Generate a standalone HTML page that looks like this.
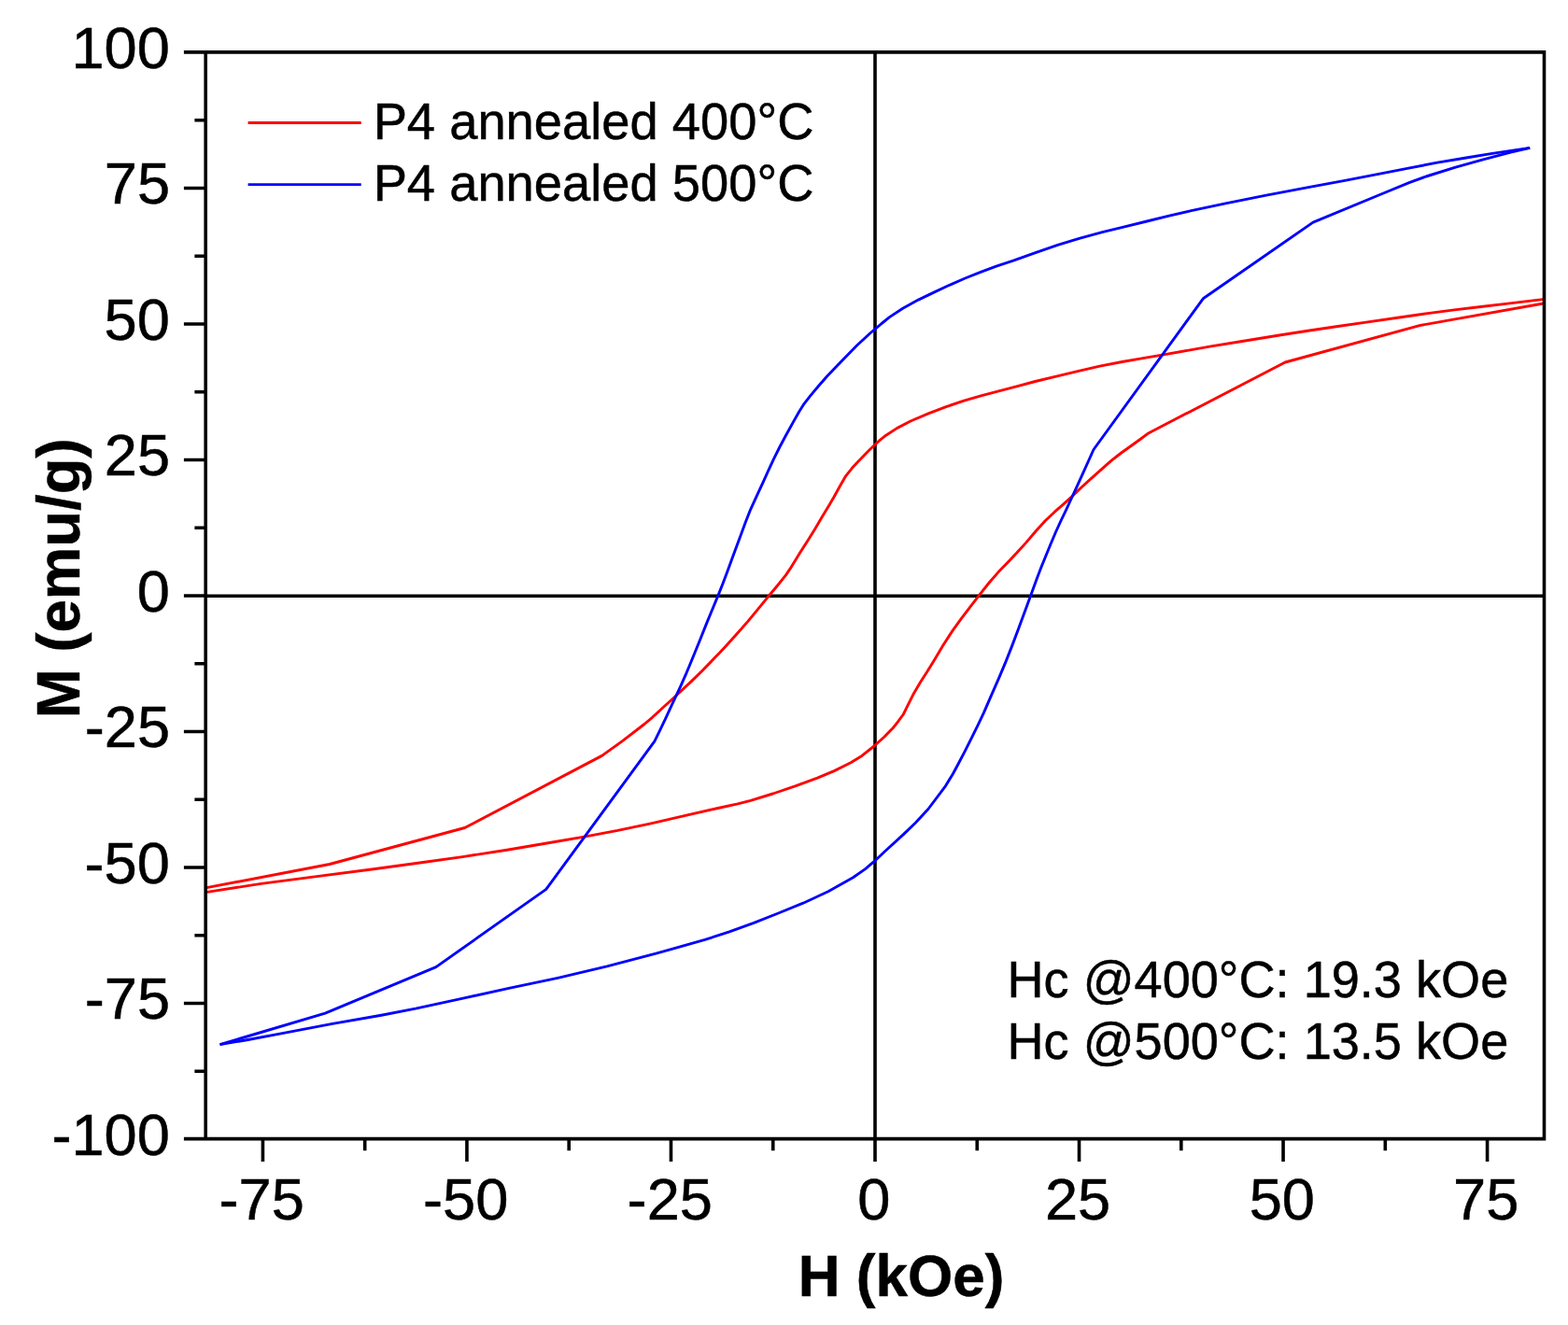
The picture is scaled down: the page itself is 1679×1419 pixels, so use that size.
<!DOCTYPE html>
<html><head><meta charset="utf-8"><title>M-H hysteresis loops</title>
<style>html,body{margin:0;padding:0;background:#fff;}body{width:1679px;height:1419px;overflow:hidden;}svg{display:block;}</style>
</head><body><svg width="1679" height="1419" viewBox="0 0 1679 1419"><line x1="220.2" y1="638.3" x2="1653.5" y2="638.3" stroke="#000" stroke-width="3.6"/><line x1="937.0" y1="55.9" x2="937.0" y2="1219.6" stroke="#000" stroke-width="3.6"/><g fill="none" stroke-width="2.9" stroke-linejoin="round" stroke-linecap="butt"><path d="M220.0 950.9 L353.0 925.5 L497.7 886.5 L644.5 809.4 L666.1 793.9 L690.0 775.5 L698.5 768.3 L709.4 758.3 L722.6 746.3 L739.6 730.4 L752.0 718.3 L770.2 699.4 L779.7 689.2 L790.7 677.1 L800.9 665.4 L810.2 654.1 L820.0 642.1 L823.4 638.0 L832.4 627.2 L841.5 615.9 L846.2 608.9 L856.9 591.5 L865.4 578.2 L872.7 566.4 L880.6 553.0 L887.9 541.0 L893.0 532.2 L899.6 520.2 L905.8 509.6 L912.6 501.1 L918.2 495.0 L925.0 488.0 L930.6 482.3 L936.8 476.3 L942.5 471.1 L948.7 466.2 L960.4 458.6 L975.0 451.0 L994.1 442.9 L1013.1 435.6 L1032.2 429.2 L1051.3 423.7 L1070.3 418.7 L1089.4 413.6 L1108.5 408.5 L1135.0 402.2 L1153.8 397.7 L1177.6 392.2 L1201.5 387.5 L1225.3 383.4 L1244.4 380.1 L1272.9 375.1 L1296.8 370.9 L1330.0 365.5 L1370.0 359.0 L1400.4 354.2 L1430.8 349.7 L1461.1 345.4 L1500.0 339.8 L1528.6 335.6 L1557.2 331.9 L1585.8 328.5 L1614.4 325.1 L1654.0 320.4" stroke="#ff0000"/><path d="M220.0 955.6 L279.6 946.4 L339.1 938.6 L400.0 930.8 L447.6 924.3 L495.3 917.6 L542.9 910.2 L590.0 902.2 L625.7 896.1 L661.5 889.4 L697.2 881.8 L732.9 873.6 L768.7 865.5 L790.0 860.8 L803.8 857.3 L827.6 850.0 L851.5 841.9 L875.3 833.2 L893.2 825.6 L911.0 816.8 L922.9 809.4 L936.0 799.0 L946.8 789.2 L956.3 779.5 L961.0 773.7 L967.3 765.0 L972.8 753.8 L978.3 742.9 L985.6 730.5 L993.0 719.0 L999.8 707.9 L1009.9 691.0 L1019.7 675.9 L1029.6 662.1 L1039.5 649.2 L1048.4 637.7 L1059.2 624.0 L1069.1 612.6 L1078.9 602.4 L1088.8 592.0 L1098.7 581.1 L1109.0 569.0 L1119.2 557.8 L1129.3 548.2 L1138.3 540.3 L1147.4 532.1 L1159.8 520.3 L1168.8 512.1 L1178.9 503.1 L1190.2 493.2 L1200.0 485.5 L1220.9 470.5 L1230.1 463.7 L1376.1 388.0 L1520.0 348.6 L1654.0 324.8" stroke="#ff0000"/><path d="M235.5 1118.6 L348.2 1085.2 L466.9 1035.6 L584.8 952.4 L700.9 793.9 L706.3 782.8 L712.5 769.8 L717.9 758.2 L723.3 746.7 L728.8 734.9 L734.2 722.7 L739.6 709.7 L744.3 698.3 L750.1 684.0 L756.1 668.9 L762.0 654.5 L768.8 638.1 L773.8 625.5 L778.9 611.9 L784.0 597.9 L790.0 581.7 L792.8 574.2 L798.3 559.2 L803.8 545.3 L810.2 531.3 L816.7 517.4 L822.2 505.2 L828.6 491.4 L835.0 478.5 L841.0 467.2 L849.2 452.4 L855.6 441.0 L861.1 432.3 L867.5 424.1 L876.6 413.3 L885.8 402.8 L896.8 391.3 L907.8 380.0 L917.8 369.8 L931.6 357.0 L937.1 352.4 L944.0 346.5 L952.5 339.6 L966.7 330.2 L983.4 321.1 L1000.0 313.1 L1016.7 305.3 L1033.4 298.0 L1050.1 291.3 L1066.8 285.2 L1085.0 279.2 L1108.8 270.7 L1132.6 262.4 L1156.5 255.1 L1180.3 248.7 L1204.1 242.9 L1228.0 237.0 L1251.8 231.2 L1275.6 225.7 L1312.3 217.8 L1354.6 209.3 L1396.8 201.4 L1440.0 193.4 L1480.0 185.7 L1509.5 179.8 L1539.0 174.2 L1568.4 169.2 L1597.9 164.4 L1638.2 158.4" stroke="#0000ff"/><path d="M235.5 1118.6 L264.3 1113.7 L303.6 1106.3 L356.0 1096.4 L408.4 1087.3 L445.0 1080.2 L492.4 1069.8 L544.8 1058.4 L597.2 1047.3 L650.0 1034.9 L702.4 1021.2 L754.8 1006.4 L781.0 997.9 L807.2 988.3 L833.4 978.0 L860.0 967.2 L886.8 954.8 L913.5 939.7 L926.9 930.4 L937.0 921.7 L947.0 912.3 L967.1 893.9 L980.5 881.0 L993.9 866.5 L1012.6 841.6 L1020.4 828.7 L1025.9 818.5 L1033.3 804.4 L1039.7 791.6 L1047.0 776.9 L1053.4 763.3 L1060.0 748.2 L1064.6 737.7 L1070.5 724.2 L1077.0 708.6 L1083.9 691.1 L1090.8 672.7 L1096.7 656.7 L1103.6 637.9 L1109.5 621.7 L1114.5 608.6 L1119.6 596.0 L1124.8 583.3 L1130.4 570.0 L1136.1 557.5 L1141.7 545.8 L1147.4 533.5 L1153.0 521.3 L1159.8 506.4 L1165.4 494.0 L1171.0 481.5 L1288.3 319.8 L1406.0 238.1 L1480.0 207.5 L1509.5 195.4 L1527.0 189.0 L1558.6 179.1 L1588.1 170.8 L1617.6 163.1 L1638.2 158.4" stroke="#0000ff"/></g><path d="M196.9 55.9 H1653.5 V1219.6 H196.9" fill="none" stroke="#000" stroke-width="3.6"/><line x1="220.2" y1="55.9" x2="220.2" y2="1219.6" stroke="#000" stroke-width="3.6"/><path d="M208.4 1147.25 H220.2 M196.9 1074.50 H220.2 M208.4 1001.75 H220.2 M196.9 929.00 H220.2 M208.4 856.25 H220.2 M196.9 783.50 H220.2 M208.4 710.75 H220.2 M196.9 638.00 H220.2 M208.4 565.25 H220.2 M196.9 492.50 H220.2 M208.4 419.75 H220.2 M196.9 347.00 H220.2 M208.4 274.25 H220.2 M196.9 201.50 H220.2 M208.4 128.75 H220.2 M281.43 1219.6 V1244.0 M390.69 1219.6 V1232.3 M499.95 1219.6 V1244.0 M609.21 1219.6 V1232.3 M718.48 1219.6 V1244.0 M827.74 1219.6 V1232.3 M937.00 1219.6 V1244.0 M1046.26 1219.6 V1232.3 M1155.53 1219.6 V1244.0 M1264.79 1219.6 V1232.3 M1374.05 1219.6 V1244.0 M1483.31 1219.6 V1232.3 M1592.57 1219.6 V1244.0" stroke="#000" stroke-width="3.6" fill="none"/><line x1="265.6" y1="131.5" x2="386.7" y2="131.5" stroke="#ff0000" stroke-width="2.9"/><line x1="265.6" y1="197.6" x2="386.7" y2="197.6" stroke="#0000ff" stroke-width="2.9"/><g font-family="'Liberation Sans', Arial, sans-serif" fill="#000" stroke="#000" stroke-width="0.5" style="font-kerning:none"><text transform="translate(76.42 72.50) scale(0.9906 1)" font-size="63.80">100</text><text transform="translate(111.76 218.00) scale(0.9906 1)" font-size="63.80">75</text><text transform="translate(111.57 363.50) scale(0.9906 1)" font-size="63.80">50</text><text transform="translate(111.76 509.00) scale(0.9906 1)" font-size="63.80">25</text><text transform="translate(146.72 654.50) scale(0.9906 1)" font-size="63.80">0</text><text transform="translate(90.71 800.00) scale(0.9906 1)" font-size="63.80">-25</text><text transform="translate(90.52 945.50) scale(0.9906 1)" font-size="63.80">-50</text><text transform="translate(90.71 1091.00) scale(0.9906 1)" font-size="63.80">-75</text><text transform="translate(55.38 1236.50) scale(0.9906 1)" font-size="63.80">-100</text><text transform="translate(234.53 1306.10) scale(0.9906 1)" font-size="63.80">-75</text><text transform="translate(452.96 1306.10) scale(0.9906 1)" font-size="63.80">-50</text><text transform="translate(671.58 1306.10) scale(0.9906 1)" font-size="63.80">-25</text><text transform="translate(918.28 1306.10) scale(0.9906 1)" font-size="63.80">0</text><text transform="translate(1118.96 1306.10) scale(0.9906 1)" font-size="63.80">25</text><text transform="translate(1337.72 1306.10) scale(0.9906 1)" font-size="63.80">50</text><text transform="translate(1555.98 1306.10) scale(0.9906 1)" font-size="63.80">75</text><text transform="translate(399.64 149.00) scale(0.9807 1)" font-size="55.40">P4 annealed 400°C</text><text transform="translate(399.64 215.20) scale(0.9807 1)" font-size="55.40">P4 annealed 500°C</text><text transform="translate(1078.46 1067.60) scale(0.9734 1)" font-size="55.60">Hc @400°C: 19.3 kOe</text><text transform="translate(1078.46 1133.60) scale(0.9734 1)" font-size="55.60">Hc @500°C: 13.5 kOe</text><text transform="translate(854.75 1388.00) scale(0.9771 1)" font-size="63.50" font-weight="bold">H (kOe)</text><text transform="translate(85.20 769.15) rotate(-90) scale(0.9769 1)" font-size="65.00" font-weight="bold">M (emu/g)</text></g></svg></body></html>
